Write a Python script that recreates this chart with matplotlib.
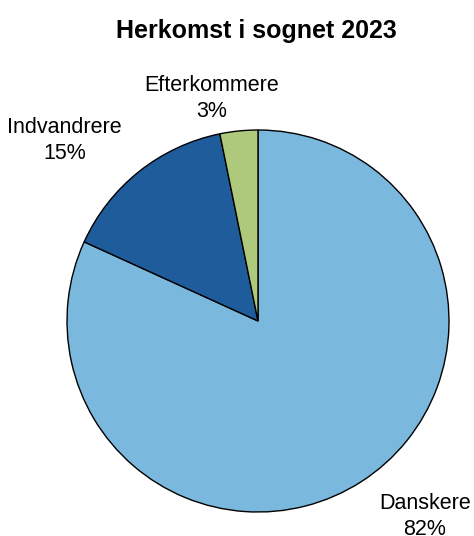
import matplotlib.pyplot as plt

plt.rcParams['font.family'] = ['Liberation Sans', 'DejaVu Sans']

# data
categories = ['Danskere', 'Indvandrere', 'Efterkommere']
shares = [81.8, 15.0, 3.2]
pct_labels = ['82%', '15%', '3%']
colors = ['#7ab8dd', '#1f5c9b', '#aec97c']

# label positions (axes data units, pie radius = 1)
label_pos = [(0.874, -1.023), (-1.013, 0.945), (-0.241, 1.165)]

fig = plt.figure(figsize=(4.74, 5.36), dpi=100)
ax = fig.add_axes([67 / 474, 24 / 536, 382 / 474, 382 / 536])

ax.pie(shares, colors=colors, startangle=90, counterclock=False,
       wedgeprops=dict(edgecolor='black', linewidth=1.0), radius=1.0)

for name, pct, (x, y) in zip(categories, pct_labels, label_pos):
    ax.text(x, y, f'{name}\n{pct}', ha='center', va='center',
            fontsize=15.5, linespacing=1.3, clip_on=False)

ax.set_xlim(-1, 1)
ax.set_ylim(-1, 1)
ax.set_aspect('equal')
ax.axis('off')

fig.text(256.5 / 474, 1 - 31 / 536, 'Herkomst i sognet 2023', ha='center',
         va='center', fontsize=18, fontweight='bold')

fig.savefig('out.png', dpi=100)
